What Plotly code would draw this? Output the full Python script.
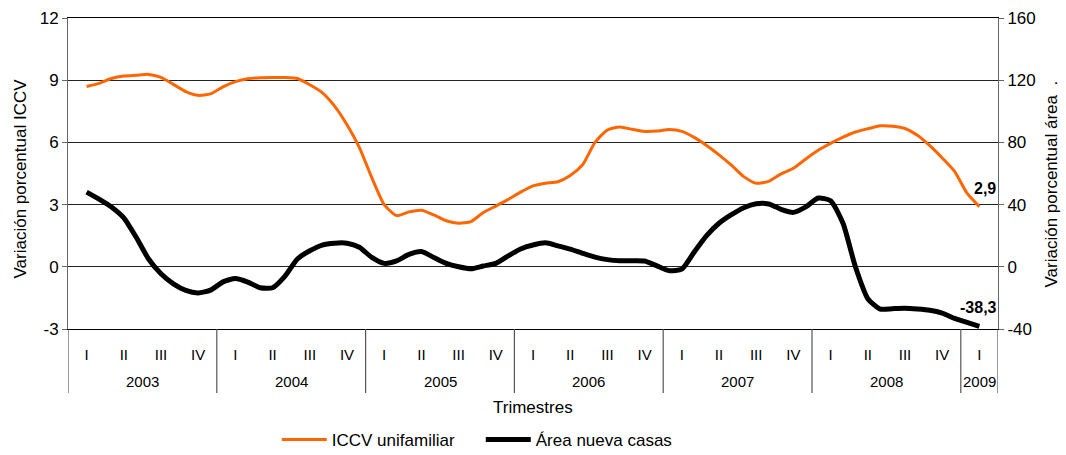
import plotly.graph_objects as go

# Monthly observations, 2003-I (Jan) to 2009-I, x measured in quarters
iccv = [8.7, 8.85, 9.08, 9.2, 9.24, 9.28, 9.14, 8.8, 8.45, 8.27, 8.34, 8.68,
        8.93, 9.07, 9.12, 9.13, 9.13, 9.08, 8.78, 8.4, 7.75, 6.85, 5.75, 4.3,
        3.0, 2.47, 2.65, 2.73, 2.5, 2.22, 2.1, 2.18, 2.62, 2.93, 3.25, 3.6,
        3.9, 4.03, 4.1, 4.4, 4.92, 6.0, 6.6, 6.74, 6.63, 6.53, 6.55, 6.62,
        6.53, 6.24, 5.85, 5.4, 4.9, 4.35, 4.03, 4.12, 4.48, 4.75, 5.2, 5.62,
        5.95, 6.25, 6.5, 6.66, 6.8, 6.78, 6.67, 6.34, 5.84, 5.25, 4.6, 3.55, 2.9]
area = [48.0, 43.5, 38.5, 31.5, 19.0, 5.0, -4.5, -11.0, -15.2, -16.8, -15.0, -9.7,
        -7.5, -9.8, -13.5, -13.5, -6.0, 5.0, 10.3, 14.0, 15.2, 15.2, 12.6, 6.0,
        2.2, 3.8, 8.0, 9.8, 6.0, 2.2, 0.0, -1.3, 0.5, 2.2, 7.0, 11.5,
        14.0, 15.4, 13.5, 11.4, 8.7, 6.2, 4.6, 3.9, 3.9, 3.7, 0.6, -2.5,
        -1.5, 9.5, 20.0, 28.0, 33.5, 38.0, 40.5, 40.4, 37.0, 35.0, 38.5, 44.2,
        42.5, 28.0, 0.0, -20.5, -27.2, -26.9, -26.7, -27.2, -28.0, -29.8, -33.2, -35.8, -38.3]
months = [m / 3 for m in range(len(iccv))]

quarter_labels = ["I", "II", "III", "IV"] * 6 + ["I"]
years = ["2003", "2004", "2005", "2006", "2007", "2008", "2009"]
year_quarters = [4, 4, 4, 4, 4, 4, 1]
left_ticks = [-3, 0, 3, 6, 9, 12]
right_ticks = [-40, 0, 40, 80, 120, 160]

FONT = "Liberation Sans, Arial, sans-serif"
fig = go.Figure()
fig.add_trace(go.Scatter(x=months, y=iccv, mode="lines", name="ICCV unifamiliar",
                         line=dict(color="#FF6600", width=3, shape="spline", smoothing=0.6),
                         yaxis="y"))
fig.add_trace(go.Scatter(x=months, y=area, mode="lines", name="Área nueva casas",
                         line=dict(color="#000000", width=5, shape="spline", smoothing=0.6),
                         yaxis="y2"))

shapes = []
annotations = []
start = 0
bounds = [-0.5]
for yr, nq in zip(years, year_quarters):
    center = start + (nq - 1) / 2
    annotations.append(dict(x=center, y=0, xref="x", yref="paper", text=yr,
                            showarrow=False, yanchor="middle", yshift=-52,
                            font=dict(size=15, color="#000", family=FONT)))
    start += nq
    bounds.append(start - 0.5)
for b in bounds:
    shapes.append(dict(type="line", xref="x", yref="paper", x0=b, x1=b, y0=0, y1=-0.206,
                       line=dict(color="#555555", width=1.2)))

annotations += [
    dict(x=0.5, y=0, xref="paper", yref="paper", text="Trimestres", showarrow=False,
         yanchor="middle", yshift=-78, font=dict(size=17, color="#000", family=FONT)),
    dict(x=0, y=0.5, xref="paper", yref="paper", text="Variación porcentual ICCV",
         showarrow=False, textangle=-90, xanchor="center", yanchor="middle",
         xshift=-48, yshift=-5, font=dict(size=17, color="#000", family=FONT)),
    dict(x=1, y=0.5, xref="paper", yref="paper", text="Variación porcentual área\u00a0\u00a0.",
         showarrow=False, textangle=-90, xanchor="center", yanchor="middle",
         xshift=53, yshift=-11, font=dict(size=17, color="#000", family=FONT)),
    dict(x=months[-1], y=iccv[-1], xref="x", yref="y", text="<b>2,9</b>",
         showarrow=False, xshift=6, yshift=18, font=dict(size=16, color="#000", family=FONT)),
    dict(x=months[-1], y=area[-1], xref="x", yref="y2", text="<b>-38,3</b>",
         showarrow=False, xshift=-1, yshift=19, font=dict(size=16, color="#000", family=FONT)),
]

fig.update_layout(
    width=1066, height=455,
    margin=dict(l=68, r=68, t=18, b=126, autoexpand=False),
    paper_bgcolor="white", plot_bgcolor="white",
    font=dict(family=FONT, size=17, color="#000"),
    showlegend=True,
    legend=dict(orientation="h", x=0.2245, xanchor="left", y=-0.357, yanchor="middle",
                font=dict(size=17, family=FONT), itemwidth=45, tracegroupgap=0,
                entrywidth=144),
    xaxis=dict(range=[-0.5, 24.5], tickvals=list(range(25)), ticktext=quarter_labels,
               automargin=False,
               showgrid=False, zeroline=False, showline=True, linecolor="#000", linewidth=1,
               mirror=True, ticks="outside", ticklen=0, tickcolor="rgba(0,0,0,0)",
               ticklabelstandoff=12, tickfont=dict(size=15, family=FONT)),
    yaxis=dict(range=[-3, 12], tickvals=left_ticks, ticktext=[str(v) for v in left_ticks],
               showgrid=True, gridcolor="#222",
               gridwidth=1, zeroline=False, showline=True, linecolor="#666", linewidth=1,
               automargin=False,
               ticks="outside", ticklen=5, tickcolor="#666",
               tickfont=dict(size=17, family=FONT)),
    yaxis2=dict(range=[-40, 160], tickvals=right_ticks, ticktext=[str(v) for v in right_ticks],
                overlaying="y", side="right",
                showgrid=False, zeroline=False, showline=True, linecolor="#666", linewidth=1,
                automargin=False,
                ticks="outside", ticklen=5, tickcolor="#666",
                tickfont=dict(size=17, family=FONT)),
    shapes=shapes, annotations=annotations,
)
fig.write_html("out.html", config={"displayModeBar": False},
               post_script="document.body.style.margin='0';document.body.style.overflow='hidden';")
